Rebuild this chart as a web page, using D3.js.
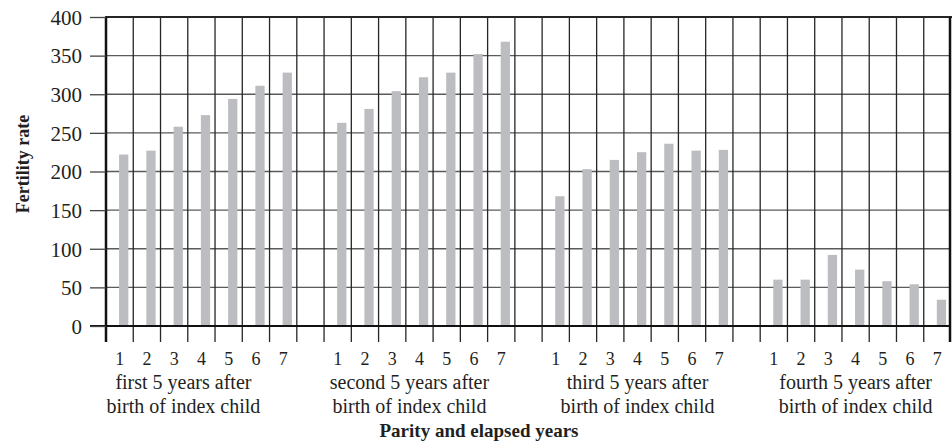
<!DOCTYPE html>
<html>
<head>
<meta charset="utf-8">
<script src="https://cdn.jsdelivr.net/npm/d3@7"></script>
<style>
  html, body { margin: 0; padding: 0; background: #fff; }
  svg { display: block; }
  text { font-family: "Liberation Serif", "DejaVu Serif", serif; fill: #231f20; }
</style>
</head>
<body>
<svg id="chart" width="952" height="444"></svg>
<script>
// ---- data ----
const groups = ["first", "second", "third", "fourth"];
const groupLine1 = ["first 5 years after", "second 5 years after", "third 5 years after", "fourth 5 years after"];
const groupLine2 = ["birth of index child", "birth of index child", "birth of index child", "birth of index child"];
const parities = ["1", "2", "3", "4", "5", "6", "7"];
const firstValues  = [222, 227, 258, 273, 294, 311, 328];
const secondValues = [263, 281, 304, 322, 328, 352, 368];
const thirdValues  = [168, 203, 215, 225, 236, 227, 228];
const fourthValues = [60, 60, 92, 73, 58, 54, 34];
const yTicks = [0, 50, 100, 150, 200, 250, 300, 350, 400];
const yLabel = "Fertility rate";
const xLabel = "Parity and elapsed years";

const seriesValues = [firstValues, secondValues, thirdValues, fourthValues];

// ---- layout ----
const svg = d3.select("#chart");
const mLeft = 106, mRight = 951, mTop = 17, mBottom = 326;

// slots: 7 parities per group, then a gap slot between groups
const slots = [];
groups.forEach((g, gi) => {
  parities.forEach(p => slots.push({ key: g + "-" + p, group: gi, parity: p }));
  if (gi < groups.length - 1) slots.push({ key: g + "-gap", group: gi, parity: null });
});

const x = d3.scaleBand().domain(slots.map(s => s.key)).range([mLeft, mRight]).padding(0);
const y = d3.scaleLinear().domain([0, 400]).range([mBottom, mTop]);
const bw = x.bandwidth();

const bars = [];
groups.forEach((g, gi) => {
  parities.forEach((p, pi) => bars.push({ key: g + "-" + p, value: seriesValues[gi][pi] }));
});

// horizontal gridlines
svg.append("g").selectAll("line").data(yTicks.filter(d => d > 0 && d < 400)).join("line")
  .attr("x1", mLeft).attr("x2", mRight)
  .attr("y1", d => y(d)).attr("y2", d => y(d))
  .attr("stroke", "#5a5a5a").attr("stroke-width", 1.4);

// vertical gridlines + ticks below axis (at band boundaries)
const bounds = slots.map(s => x(s.key)).concat([mRight]);
svg.append("g").selectAll("line").data(bounds.slice(1, -1)).join("line")
  .attr("x1", d => d).attr("x2", d => d)
  .attr("y1", mTop).attr("y2", mBottom + 16)
  .attr("stroke", "#262626").attr("stroke-width", 1.3);

// bars
svg.append("g").selectAll("rect").data(bars).join("rect")
  .attr("x", d => x(d.key) + bw * 0.48)
  .attr("width", bw * 0.34)
  .attr("y", d => y(d.value))
  .attr("height", d => y(0) - y(d.value))
  .attr("fill", "#bcbdc1");

// frame: top, left, right, baseline
svg.append("line").attr("x1", mLeft - 1).attr("x2", mRight + 1).attr("y1", mTop).attr("y2", mTop)
  .attr("stroke", "#262626").attr("stroke-width", 2);
svg.append("line").attr("x1", mLeft).attr("x2", mLeft).attr("y1", mTop).attr("y2", mBottom + 16)
  .attr("stroke", "#111").attr("stroke-width", 2.5);
svg.append("line").attr("x1", mRight - 1).attr("x2", mRight - 1).attr("y1", mTop).attr("y2", mBottom + 16)
  .attr("stroke", "#111").attr("stroke-width", 2.5);
svg.append("line").attr("x1", mLeft - 16).attr("x2", mRight).attr("y1", mBottom).attr("y2", mBottom)
  .attr("stroke", "#111").attr("stroke-width", 2);

// y axis
const yAxis = svg.append("g").attr("transform", `translate(${mLeft},0)`)
  .call(d3.axisLeft(y).tickValues(yTicks).tickSize(16).tickPadding(8).tickFormat(d3.format("d")));
yAxis.select(".domain").remove();
yAxis.selectAll(".tick line").attr("stroke", "#444").attr("stroke-width", 1.3);
yAxis.selectAll(".tick text").style("font-family", '"Liberation Serif", serif')
  .style("font-size", "21px").attr("fill", "#231f20").attr("dy", "0.35em");

// x axis tick labels (parity numbers at band centers)
const xAxis = svg.append("g").attr("transform", `translate(0,${mBottom})`)
  .call(d3.axisBottom(x)
    .tickValues(slots.filter(s => s.parity).map(s => s.key))
    .tickFormat(k => k.split("-")[1])
    .tickSize(0).tickPadding(26));
xAxis.select(".domain").remove();
xAxis.selectAll(".tick text").style("font-family", '"Liberation Serif", serif')
  .style("font-size", "18px").attr("fill", "#231f20");

// group labels
const groupCenter = gi => {
  const a = x(groups[gi] + "-1"), b = x(groups[gi] + "-7") + bw;
  return (a + b) / 2;
};
const labelShift = [-18, -10, 0, 0];
const gl = svg.append("g").selectAll("text").data(groups).join("text")
  .attr("text-anchor", "middle")
  .attr("x", (d, i) => groupCenter(i) + labelShift[i])
  .style("font-size", "20px");
gl.append("tspan").attr("x", (d, i) => groupCenter(i) + labelShift[i]).attr("y", 389).text((d, i) => groupLine1[i]);
gl.append("tspan").attr("x", (d, i) => groupCenter(i) + labelShift[i]).attr("y", 413).text((d, i) => groupLine2[i]);

// axis titles
svg.append("text").attr("x", 479).attr("y", 437).attr("text-anchor", "middle")
  .style("font-size", "19px").style("font-weight", "bold").text(xLabel);
svg.append("text").attr("transform", "translate(29,164) rotate(-90)").attr("text-anchor", "middle")
  .style("font-size", "18px").style("font-weight", "bold").text(yLabel);
</script>
</body>
</html>
